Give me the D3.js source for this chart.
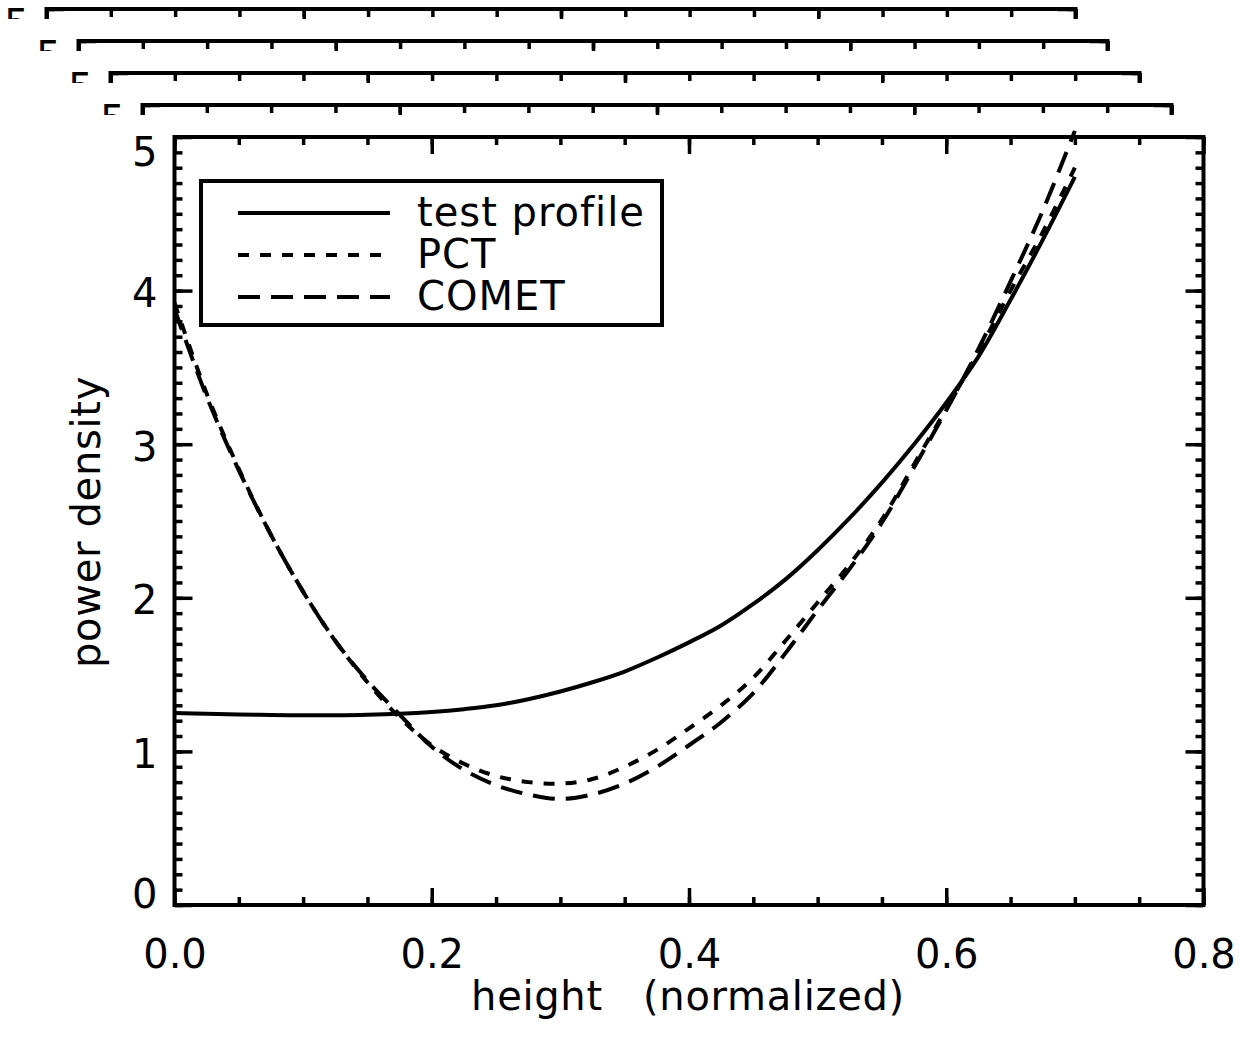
<!DOCTYPE html>
<html lang="en">
<head>
  <meta charset="UTF-8">
  <title>power density vs height</title>
  <style>
    body { margin: 0; background: #fff; }
    text { font-family: "DejaVu Sans", sans-serif; fill: #000; }
  </style>
</head>
<body>
  <div id="chart"></div>
  <script src="https://d3js.org/d3.v7.min.js"></script>
  <script>
    // data
    const heightX = [0, 0.025, 0.05, 0.075, 0.1, 0.125, 0.15, 0.175, 0.2, 0.225, 0.25, 0.275, 0.3, 0.325,
                     0.35, 0.375, 0.4, 0.425, 0.45, 0.475, 0.5, 0.525, 0.55, 0.575, 0.6, 0.625, 0.65, 0.675, 0.7];
    const testProfile = [1.25, 1.245, 1.24, 1.237, 1.235, 1.235, 1.238, 1.245, 1.257, 1.275, 1.30, 1.34, 1.39, 1.45,
                         1.52, 1.61, 1.71, 1.82, 1.96, 2.12, 2.31, 2.52, 2.75, 3.00, 3.27, 3.57, 3.94, 4.33, 4.74];
    const pct = [3.92, 3.33, 2.84, 2.41, 2.04, 1.72, 1.45, 1.22, 1.04, 0.92, 0.84, 0.80, 0.79, 0.82,
                 0.90, 1.01, 1.15, 1.30, 1.48, 1.72, 1.97, 2.22, 2.51, 2.87, 3.23, 3.60, 4.00, 4.38, 4.80];
    const comet = [3.88, 3.31, 2.83, 2.41, 2.04, 1.72, 1.46, 1.24, 1.03, 0.88, 0.78, 0.72, 0.69, 0.72,
                   0.79, 0.90, 1.04, 1.19, 1.38, 1.64, 1.92, 2.19, 2.49, 2.85, 3.22, 3.62, 4.06, 4.52, 5.04];
    const seriesNames = ["test profile", "PCT", "COMET"];
    const xTicks = [0, 0.2, 0.4, 0.6, 0.8];
    const xTickLabels = ["0.0", "0.2", "0.4", "0.6", "0.8"];
    const yTicks = [0, 1, 2, 3, 4, 5];
    const yTickLabels = ["0", "1", "2", "3", "4", "5"];

    const W = 1246, H = 1037;
    const svg = d3.select("#chart").append("svg").attr("width", W).attr("height", H);

    // main plot box
    const L = 174.5, R = 1203.5, T = 137, B = 905;
    const step = 32;   // offset of the older plots behind
    const lw = 4;

    const x = d3.scaleLinear().domain([0, 0.8]).range([L, R]);
    const y = d3.scaleLinear().domain([0, 5]).range([B, T]);
    const xMinor = d3.range(0, 0.8001, 0.05);
    const yMinor = d3.range(0, 5.001, 0.1);

    const dashes = { "test profile": null, "PCT": "11,11", "COMET": "22,11" };
    const series = [testProfile, pct, comet];

    function styleAxis(g) {
      g.select(".domain").remove();
      g.selectAll("line").attr("stroke", "#000").attr("stroke-width", 3.5);
      g.selectAll("text").style("font-size", "40px");
    }

    function drawFrame(k, isMain) {
      const off = (k - 4) * step;
      const g = svg.append("g").attr("transform", `translate(${off},${off})`);

      // white fill hides the plot drawn before
      g.append("rect")
        .attr("x", L - 260).attr("y", T - 22)
        .attr("width", R - L + 400).attr("height", H)
        .attr("fill", "#fff");

      // minor ticks
      g.append("g").attr("transform", `translate(0,${B})`)
        .call(d3.axisBottom(x).tickValues(xMinor).tickSizeInner(-8).tickSizeOuter(0).tickFormat(""))
        .call(styleAxis);
      g.append("g").attr("transform", `translate(0,${T})`)
        .call(d3.axisTop(x).tickValues(xMinor).tickSizeInner(-8).tickSizeOuter(0).tickFormat(""))
        .call(styleAxis);
      g.append("g").attr("transform", `translate(${L},0)`)
        .call(d3.axisLeft(y).tickValues(yMinor).tickSizeInner(-8).tickSizeOuter(0).tickFormat(""))
        .call(styleAxis);
      g.append("g").attr("transform", `translate(${R},0)`)
        .call(d3.axisRight(y).tickValues(yMinor).tickSizeInner(-8).tickSizeOuter(0).tickFormat(""))
        .call(styleAxis);

      // major ticks; the plots behind only show their top label
      g.append("g").attr("transform", `translate(0,${B})`)
        .call(d3.axisBottom(x).tickValues(xTicks).tickSizeInner(-17).tickSizeOuter(0).tickPadding(35)
          .tickFormat((d, i) => isMain ? xTickLabels[i] : ""))
        .call(styleAxis);
      g.append("g").attr("transform", `translate(0,${T})`)
        .call(d3.axisTop(x).tickValues(xTicks).tickSizeInner(-17).tickSizeOuter(0).tickFormat(""))
        .call(styleAxis);
      const ya = g.append("g").attr("transform", `translate(${L},0)`)
        .call(d3.axisLeft(y).tickValues(yTicks).tickSizeInner(-18).tickSizeOuter(0).tickPadding(17)
          .tickFormat((d, i) => (isMain || d === 5) ? yTickLabels[i] : ""))
        .call(styleAxis);
      ya.selectAll(".tick text").attr("y", d => d === 5 ? 16 : d === 0 ? -10 : 3);
      g.append("g").attr("transform", `translate(${R},0)`)
        .call(d3.axisRight(y).tickValues(yTicks).tickSizeInner(-18).tickSizeOuter(0).tickFormat(""))
        .call(styleAxis);

      // box
      g.append("rect")
        .attr("x", L).attr("y", T).attr("width", R - L).attr("height", B - T)
        .attr("fill", "none").attr("stroke", "#000").attr("stroke-width", lw);

      if (!isMain) return;

      const line = d3.line()
        .x((d, i) => x(heightX[i]))
        .y(d => y(d))
        .curve(d3.curveCatmullRom);

      series.forEach((s, i) => {
        g.append("path")
          .datum(s)
          .attr("d", line)
          .attr("fill", "none")
          .attr("stroke", "#000")
          .attr("stroke-width", 4)
          .attr("stroke-dasharray", dashes[seriesNames[i]]);
      });

      // legend
      const lg = g.append("g");
      lg.append("rect")
        .attr("x", 201).attr("y", 181).attr("width", 461).attr("height", 144)
        .attr("fill", "#fff").attr("stroke", "#000").attr("stroke-width", lw);
      seriesNames.forEach((name, i) => {
        const ly = 213 + i * 42;
        lg.append("line")
          .attr("x1", 238).attr("x2", 390).attr("y1", ly).attr("y2", ly)
          .attr("stroke", "#000").attr("stroke-width", 4)
          .attr("stroke-dasharray", dashes[name]);
        lg.append("text")
          .attr("x", 417).attr("y", ly + 13)
          .style("font-size", "40px")
          .style("letter-spacing", "1px")
          .text(name);
      });

      // axis titles
      g.append("text")
        .attr("x", 688).attr("y", 1010)
        .attr("text-anchor", "middle")
        .style("font-size", "40px")
        .style("letter-spacing", "0.7px")
        .style("white-space", "pre")
        .text("height   (normalized)");
      g.append("text")
        .attr("transform", "translate(100,522) rotate(-90)")
        .attr("text-anchor", "middle")
        .style("font-size", "40px")
        .style("letter-spacing", "0.7px")
        .text("power density");
    }

    for (let k = 0; k < 5; k++) drawFrame(k, k === 4);
  </script>
</body>
</html>
